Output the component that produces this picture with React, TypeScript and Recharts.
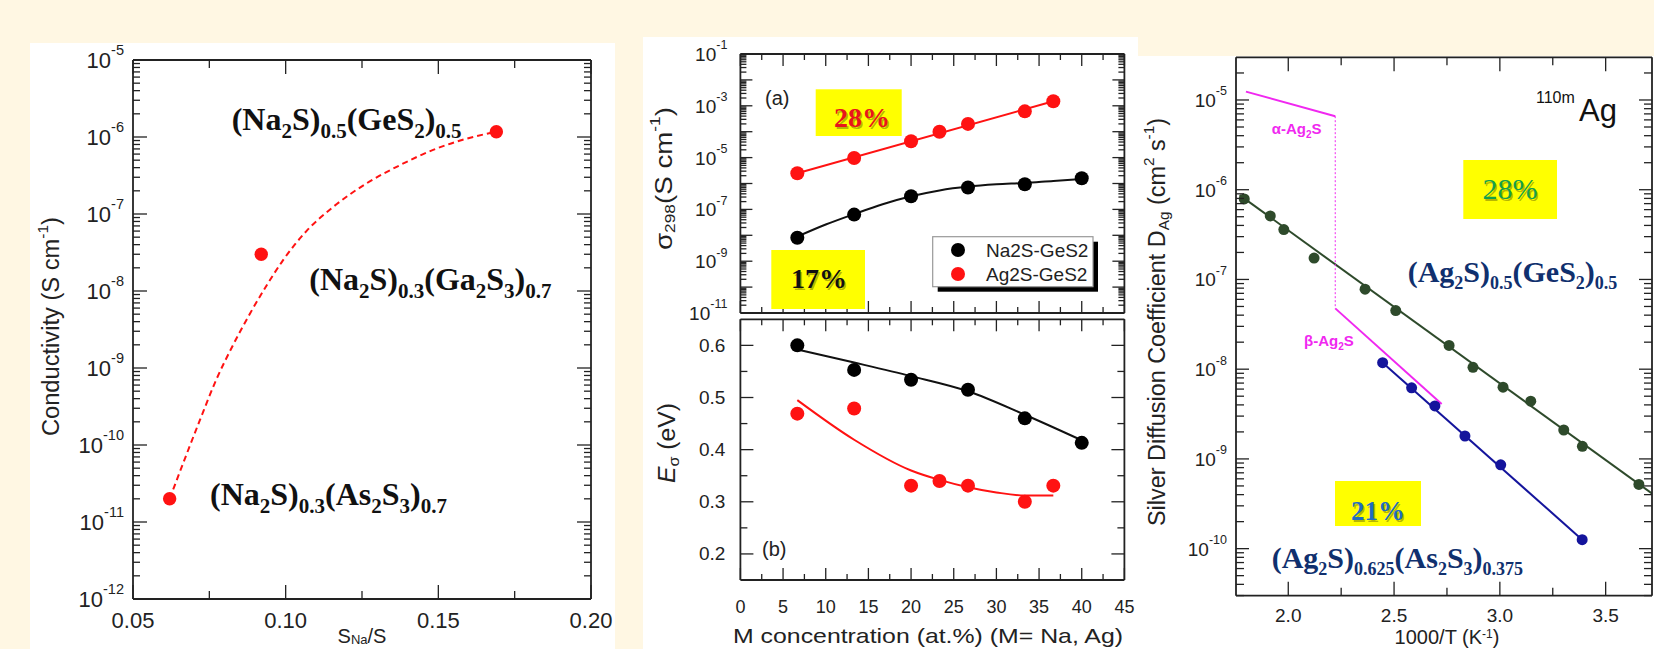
import React from 'react';
import { ComposedChart, Line, XAxis, YAxis } from 'recharts';

const W = 1654;
const H = 649;
const CREAM = '#fff7e3';
const INK = '#222222';
const SANS = "'Liberation Sans', Arial, Helvetica, sans-serif";
const SERIF = "'Liberation Serif', 'Times New Roman', serif";
const RED = '#ff1212';
const GREEN = '#2e4a2b';
const NAVY = '#14149c';
const MAGENTA = '#f028f0';
const FORMULA_BLUE = '#10306e';

// ---- left panel: conductivity vs S_Na/S
const naFraction = [0.062, 0.092, 0.169];
const naConductivity = [2.0e-11, 3.0e-8, 1.17e-6];
const naFitFraction = [0.062, 0.0719, 0.0773, 0.0828, 0.0882, 0.0937, 0.0991, 0.1068, 0.1155, 0.1265, 0.1374, 0.1483, 0.1592, 0.1691];
const naFitConductivity = [2.0e-11, 2.1e-10, 7.1e-10, 2.0e-9, 5.0e-9, 1.17e-8, 2.5e-8, 6.0e-8, 1.23e-7, 2.5e-7, 4.3e-7, 6.8e-7, 9.5e-7, 1.17e-6];
const fractionTicks = [0.05, 0.075, 0.1, 0.125, 0.15, 0.175, 0.2];
const condLabelExp = [-12, -11, -10, -9, -8, -7, -6, -5];

// ---- middle panel: sigma298 and activation energy vs M concentration
const naConc = [6.67, 13.33, 20, 26.67, 33.33, 40];
const agConc = [6.67, 13.33, 20, 23.33, 26.67, 33.33, 36.67];
const naSigma = [8.0e-9, 6.3e-8, 3.2e-7, 7.0e-7, 9.4e-7, 1.6e-6];
const agSigma = [2.5e-6, 9.6e-6, 4.3e-5, 1.0e-4, 2.0e-4, 6.1e-4, 1.5e-3];
const naSigmaFitConc = [6.67, 10, 13.33, 16.67, 20, 23.33, 26.67, 30, 33.33, 36.67, 40];
const naSigmaFit = [8.9e-9, 2.6e-8, 6.6e-8, 1.58e-7, 3.2e-7, 5.4e-7, 7.6e-7, 9.3e-7, 1.05e-6, 1.26e-6, 1.48e-6];
const agSigmaFitConc = [6.67, 36.67];
const agSigmaFit = [2.5e-6, 1.5e-3];
const naEa = [0.6, 0.553, 0.534, 0.515, 0.46, 0.413];
const agEa = [0.469, 0.479, 0.331, 0.34, 0.331, 0.3, 0.331];
const naEaFitConc = [6.67, 13.33, 20, 26.67, 33.33, 40];
const naEaFit = [0.592, 0.567, 0.541, 0.512, 0.467, 0.418];
const agEaFitConc = [6.67, 13.33, 20, 23.33, 26.67, 30, 33.33, 36.67];
const agEaFit = [0.495, 0.419, 0.36, 0.342, 0.328, 0.318, 0.312, 0.312];
const concTicks = [0, 2.5, 5, 7.5, 10, 12.5, 15, 17.5, 20, 22.5, 25, 27.5, 30, 32.5, 35, 37.5, 40, 42.5, 45];
const sigmaLabelExp = [-1, -3, -5, -7, -9, -11];
const eaTicks = [0.2, 0.25, 0.3, 0.35, 0.4, 0.45, 0.5, 0.55, 0.6];

// ---- right panel: silver diffusion coefficient vs 1000/T
const geInvT = [1.792, 1.915, 1.979, 2.122, 2.363, 2.508, 2.76, 2.873, 3.015, 3.146, 3.302, 3.39, 3.657];
const geDiff = [7.9e-7, 5.1e-7, 3.6e-7, 1.73e-7, 7.8e-8, 4.5e-8, 1.84e-8, 1.05e-8, 6.3e-9, 4.4e-9, 2.1e-9, 1.38e-9, 5.2e-10];
const geFitInvT = [1.77, 3.72];
const geFitDiff = [8.7e-7, 4.1e-10];
const asInvT = [2.446, 2.583, 2.693, 2.835, 3.004, 3.389];
const asDiff = [1.18e-8, 6.2e-9, 3.9e-9, 1.8e-9, 8.6e-10, 1.26e-10];
const asFitInvT = [2.446, 3.389];
const asFitDiff = [1.18e-8, 1.26e-10];
const alphaInvT = [1.8, 2.222];
const alphaDiff = [1.24e-5, 6.6e-6];
const jumpInvT = [2.222, 2.222];
const jumpDiff = [6.6e-6, 4.76e-8];
const betaInvT = [2.222, 2.725];
const betaDiff = [4.76e-8, 4.1e-9];
const invTTicks = [2.0, 2.25, 2.5, 2.75, 3.0, 3.25, 3.5];
const diffLabelExp = [-10, -9, -8, -7, -6, -5];

const zip = (xs: number[], ys: number[]) => xs.map((x, i) => ({ x, y: ys[i] }));

const logTicks = (lo: number, hi: number, min: number, max: number) => {
  const out: number[] = [];
  for (let e = lo; e <= hi; e++) {
    for (let m = 1; m < 10; m++) {
      const v = Number((m * Math.pow(10, e)).toPrecision(4));
      if (v >= min * 0.999 && v <= max * 1.001) out.push(v);
    }
  }
  return out;
};
const isDecade = (v: number) => Math.abs(Math.log10(v) - Math.round(Math.log10(v))) < 1e-6;
const expOf = (v: number) => Math.round(Math.log10(v));
const onStep = (v: number, step: number) => Math.abs(v / step - Math.round(v / step)) < 1e-6;

const pow10 = (e: number, fs: number) => [
  <tspan key="b">10</tspan>,
  <tspan key="e" dy={-fs * 0.45} fontSize={fs * 0.66}>{String(e)}</tspan>,
];

type Side = 'left' | 'right' | 'top' | 'bottom';
interface AxisSpec {
  domain: [number, number];
  ticks: number[];
  isMajor: (v: number) => boolean;
  majorLen: number;
  minorLen: number;
  log?: boolean;
  label?: (v: number) => React.ReactNode;
  gap?: number;
  fontSize?: number;
}

const makeTick = (side: Side, s: AxisSpec, withLabel: boolean) => (props: any) => {
  const { x, y, payload } = props;
  const v = Number(payload.value);
  const len = s.isMajor(v) ? s.majorLen : s.minorLen;
  const dx = side === 'left' ? len : side === 'right' ? -len : 0;
  const dy = side === 'top' ? len : side === 'bottom' ? -len : 0;
  const lab = withLabel && s.label ? s.label(v) : null;
  const fs = s.fontSize ?? 18;
  const gap = s.gap ?? 8;
  return (
    <g>
      <line x1={x} y1={y} x2={x + dx} y2={y + dy} stroke={INK} strokeWidth={1.3} />
      {lab != null &&
        (side === 'left' ? (
          <text x={x - gap} y={y} textAnchor="end" dominantBaseline="central" fontSize={fs} fontFamily={SANS} fill={INK}>
            {lab}
          </text>
        ) : (
          <text x={x} y={y + gap} textAnchor="middle" fontSize={fs} fontFamily={SANS} fill={INK}>
            {lab}
          </text>
        ))}
    </g>
  );
};

const AXIS_LINE = { stroke: INK, strokeWidth: 1.8 };

// axes are 1px thick: recharts skips drawing an axis whose box has zero size
const frame = (xs: AxisSpec, ys: AxisSpec, xLabels = true) => [
  <XAxis key="xb" xAxisId="b" orientation="bottom" type="number" dataKey="x" domain={xs.domain} ticks={xs.ticks}
    interval={0} allowDataOverflow height={1} tickSize={0} tickMargin={0} tickLine={false} axisLine={AXIS_LINE}
    tick={makeTick('bottom', xs, xLabels)} />,
  <XAxis key="xt" xAxisId="t" orientation="top" type="number" dataKey="x" domain={xs.domain} ticks={xs.ticks}
    interval={0} allowDataOverflow height={1} tickSize={0} tickMargin={0} tickLine={false} axisLine={AXIS_LINE}
    tick={makeTick('top', xs, false)} />,
  <YAxis key="yl" yAxisId="l" orientation="left" type="number" scale={ys.log ? 'log' : 'linear'} domain={ys.domain}
    ticks={ys.ticks} interval={0} allowDataOverflow width={1} tickSize={0} tickMargin={0} tickLine={false}
    axisLine={AXIS_LINE} tick={makeTick('left', ys, true)} />,
  <YAxis key="yr" yAxisId="r" orientation="right" type="number" scale={ys.log ? 'log' : 'linear'} domain={ys.domain}
    ticks={ys.ticks} interval={0} allowDataOverflow width={1} tickSize={0} tickMargin={0} tickLine={false}
    axisLine={AXIS_LINE} tick={makeTick('right', ys, false)} />,
];

interface Box { l: number; r: number; t: number; b: number }
const P1: Box = { l: 133, r: 591, t: 60, b: 599 };
const P2A: Box = { l: 740.4, r: 1124.4, t: 54, b: 313 };
const P2B: Box = { l: 740.4, r: 1124.4, t: 319.3, b: 580 };
const P3: Box = { l: 1236, r: 1652, t: 57.3, b: 595.7 };

const Plot = ({ box, children }: { box: Box; children: React.ReactNode }) => (
  <div style={{ position: 'absolute', left: 0, top: 0 }}>
    <ComposedChart width={W} height={H}
      margin={{ left: box.l - 1, right: W - box.r - 1, top: box.t - 1, bottom: H - box.b - 1 }}>
      {children}
    </ComposedChart>
  </div>
);

const fitLine = (data: { x: number; y: number }[], color: string, type: 'monotone' | 'linear' = 'monotone', extra: any = {}) => (
  <Line xAxisId="b" yAxisId="l" data={data} dataKey="y" type={type} stroke={color} strokeWidth={2}
    dot={false} activeDot={false} isAnimationActive={false} {...extra} />
);
const dots = (data: { x: number; y: number }[], color: string, r: number) => (
  <Line xAxisId="b" yAxisId="l" data={data} dataKey="y" stroke="none" strokeWidth={0}
    dot={{ r, fill: color, stroke: 'none' }} activeDot={false} isAnimationActive={false} />
);

type Part = { t: string; s?: 'sub' | 'sup'; i?: boolean };
const Rich = ({ parts, size, small, shift = 8, up = 9, ...rest }: any) => {
  let cur = 0;
  return (
    <text {...rest}>
      {(parts as Part[]).map((p, i) => {
        const target = p.s === 'sub' ? shift : p.s === 'sup' ? -up : 0;
        const d = target - cur;
        cur = target;
        return (
          <tspan key={i} dy={d} fontSize={p.s ? small : size} fontStyle={p.i ? 'italic' : undefined}>
            {p.t}
          </tspan>
        );
      })}
    </text>
  );
};
const sub = (t: string): Part => ({ t, s: 'sub' });
const sup = (t: string): Part => ({ t, s: 'sup' });
const n = (t: string): Part => ({ t });

const Percent = ({ x, y, text, color, size, bold = true }: any) => (
  <g>
    <text x={x + 1.5} y={y + 1.5} textAnchor="middle" fontFamily={SERIF} fontWeight={bold ? 700 : 400} fontSize={size} fill="rgba(0,0,0,0.3)">{text}</text>
    <text x={x} y={y} textAnchor="middle" fontFamily={SERIF} fontWeight={bold ? 700 : 400} fontSize={size} fill={color}>{text}</text>
  </g>
);

const rotated = (cx: number, cy: number) => ({ x: cx, y: cy, transform: `rotate(-90 ${cx} ${cy})`, textAnchor: 'middle', dominantBaseline: 'central' });

export default function App() {
  const p1X: AxisSpec = {
    domain: [0.05, 0.2], ticks: fractionTicks, majorLen: 14, minorLen: 8,
    isMajor: (v) => onStep(v, 0.05),
    label: (v) => (onStep(v, 0.05) ? v.toFixed(2) : null), gap: 29, fontSize: 22,
  };
  const p1Y: AxisSpec = {
    domain: [1e-12, 1e-5], ticks: logTicks(-12, -5, 1e-12, 1e-5), log: true, majorLen: 14, minorLen: 7,
    isMajor: isDecade, label: (v) => (isDecade(v) && condLabelExp.includes(expOf(v)) ? pow10(expOf(v), 22) : null),
    gap: 9, fontSize: 22,
  };
  const concX: AxisSpec = {
    domain: [0, 45], ticks: concTicks, majorLen: 12, minorLen: 6,
    isMajor: (v) => onStep(v, 5), label: (v) => (onStep(v, 5) ? String(v) : null), gap: 32.5, fontSize: 18,
  };
  const sigmaY: AxisSpec = {
    domain: [1e-11, 1e-1], ticks: logTicks(-11, -1, 1e-11, 1e-1), log: true, majorLen: 12, minorLen: 6,
    isMajor: isDecade, label: (v) => (isDecade(v) && sigmaLabelExp.includes(expOf(v)) ? pow10(expOf(v), 19) : null),
    gap: 13, fontSize: 19,
  };
  const eaY: AxisSpec = {
    domain: [0.15, 0.65], ticks: eaTicks, majorLen: 13, minorLen: 7,
    isMajor: (v) => onStep(v, 0.1),
    label: (v) => (onStep(v, 0.1) ? v.toFixed(1) : null), gap: 15, fontSize: 19,
  };
  const invTX: AxisSpec = {
    domain: [1.753, 3.719], ticks: invTTicks, majorLen: 14, minorLen: 8,
    isMajor: (v) => onStep(v, 0.5),
    label: (v) => (onStep(v, 0.5) ? v.toFixed(1) : null), gap: 26, fontSize: 19,
  };
  const diffY: AxisSpec = {
    domain: [2.99e-11, 2.99e-5], ticks: logTicks(-11, -5, 2.99e-11, 2.99e-5), log: true, majorLen: 13, minorLen: 8,
    isMajor: isDecade, label: (v) => (isDecade(v) && diffLabelExp.includes(expOf(v)) ? pow10(expOf(v), 19) : null),
    gap: 9, fontSize: 19,
  };

  return (
    <div style={{ position: 'absolute', left: 0, top: 0, width: W, height: H, background: CREAM, overflow: 'hidden' }}>
      <div style={{ position: 'absolute', left: 29.5, top: 42.5, width: 585.5, height: 620, background: '#fff' }} />
      <div style={{ position: 'absolute', left: 642.7, top: 37.3, width: 495, height: 620, background: '#fff' }} />
      <div style={{ position: 'absolute', left: 1137, top: 56, width: 520, height: 600, background: '#fff' }} />

      <Plot box={P1}>
        {frame(p1X, p1Y)}
        {fitLine(zip(naFitFraction, naFitConductivity), RED, 'monotone', { strokeDasharray: '6 4' })}
        {dots(zip(naFraction, naConductivity), RED, 6.7)}
      </Plot>

      <Plot box={P2A}>
        {frame(concX, sigmaY, false)}
        {fitLine(zip(naSigmaFitConc, naSigmaFit), '#111')}
        {fitLine(zip(agSigmaFitConc, agSigmaFit), RED, 'linear')}
        {dots(zip(naConc, naSigma), '#000', 7)}
        {dots(zip(agConc, agSigma), RED, 7)}
      </Plot>

      <Plot box={P2B}>
        {frame(concX, eaY)}
        {fitLine(zip(naEaFitConc, naEaFit), '#111')}
        {fitLine(zip(agEaFitConc, agEaFit), RED)}
        {dots(zip(naConc, naEa), '#000', 7)}
        {dots(zip(agConc, agEa), RED, 7)}
      </Plot>

      <Plot box={P3}>
        {frame(invTX, diffY)}
        {fitLine(zip(geFitInvT, geFitDiff), GREEN, 'linear')}
        {fitLine(zip(asFitInvT, asFitDiff), NAVY, 'linear')}
        {fitLine(zip(alphaInvT, alphaDiff), MAGENTA, 'linear')}
        {fitLine(zip(jumpInvT, jumpDiff), MAGENTA, 'linear', { strokeWidth: 1, strokeDasharray: '2 2' })}
        {fitLine(zip(betaInvT, betaDiff), MAGENTA, 'linear')}
        {dots(zip(geInvT, geDiff), GREEN, 5.5)}
        {dots(zip(asInvT, asDiff), NAVY, 5.5)}
      </Plot>

      <svg width={W} height={H} style={{ position: 'absolute', left: 0, top: 0, pointerEvents: 'none' }}>
        {/* left panel text */}
        <Rich {...rotated(51.4, 326.6)} fontFamily={SANS} fill={INK} size={23} small={15} up={9} textLength={219} lengthAdjust="spacingAndGlyphs"
          parts={[n('Conductivity (S cm'), sup('-1'), n(')')]} />
        <Rich x={362} y={643} textAnchor="middle" fontFamily={SANS} fill={INK} size={20} small={13} shift={1}
          parts={[n('S'), sub('Na'), n('/S')]} />
        <Rich x={231.7} y={130} fontFamily={SERIF} fontWeight={700} fill="#111" size={32} small={21}
          parts={[n('(Na'), sub('2'), n('S)'), sub('0.5'), n('(GeS'), sub('2'), n(')'), sub('0.5')]} />
        <Rich x={309.3} y={290} fontFamily={SERIF} fontWeight={700} fill="#111" size={32} small={21}
          parts={[n('(Na'), sub('2'), n('S)'), sub('0.3'), n('(Ga'), sub('2'), n('S'), sub('3'), n(')'), sub('0.7')]} />
        <Rich x={210} y={505} fontFamily={SERIF} fontWeight={700} fill="#111" size={32} small={21}
          parts={[n('(Na'), sub('2'), n('S)'), sub('0.3'), n('(As'), sub('2'), n('S'), sub('3'), n(')'), sub('0.7')]} />

        {/* middle panel text */}
        <Rich {...rotated(663, 178.5)} fontFamily={SANS} fill={INK} size={24} small={15} shift={6} up={9} textLength={143} lengthAdjust="spacingAndGlyphs"
          parts={[n('σ'), sub('298'), n('(S cm'), sup('-1'), n(')')]} />
        <Rich {...rotated(667, 443)} fontFamily={SANS} fill={INK} size={23} small={15} shift={6} textLength={80} lengthAdjust="spacingAndGlyphs"
          parts={[{ t: 'E', i: true }, sub('σ'), n(' (eV)')]} />
        <text x={928} y={643} textAnchor="middle" fontFamily={SANS} fontSize={21} fill={INK} textLength={390} lengthAdjust="spacingAndGlyphs">
          M concentration (at.%) (M= Na, Ag)
        </text>
        <text x={765} y={105} fontFamily={SANS} fontSize={20} fill={INK}>(a)</text>
        <text x={762} y={556} fontFamily={SANS} fontSize={20} fill={INK}>(b)</text>
        <rect x={815.7} y={89.3} width={86} height={46.7} fill="#ffff00" />
        <Percent x={862} y={127} text="28%" color="#e8141c" size={28} />
        <rect x={771.3} y={250} width={93.7} height={59} fill="#ffff00" />
        <Percent x={819} y={288} text="17%" color="#111" size={28} />
        <rect x={937.7} y={241.7} width={160.3} height={50} fill="#000" />
        <rect x={932.7} y={236.7} width={160.3} height={50} fill="#fff" stroke="#999" strokeWidth={1.2} />
        <circle cx={958} cy={250} r={7} fill="#000" />
        <circle cx={958} cy={274} r={7} fill={RED} />
        <text x={986} y={250} dominantBaseline="central" fontFamily={SANS} fontSize={19} fill={INK}>Na2S-GeS2</text>
        <text x={986} y={274} dominantBaseline="central" fontFamily={SANS} fontSize={19} fill={INK}>Ag2S-GeS2</text>

        {/* right panel text */}
        <Rich {...rotated(1157, 322)} fontFamily={SANS} fill={INK} size={23} small={15} shift={6} up={9} textLength={408} lengthAdjust="spacingAndGlyphs"
          parts={[n('Silver Diffusion Coefficient D'), sub('Ag'), n(' (cm'), sup('2'), n(' s'), sup('-1'), n(')')]} />
        <Rich x={1447} y={644} textAnchor="middle" fontFamily={SANS} fill={INK} size={20} small={12} up={6}
          parts={[n('1000/T (K'), sup('-1'), n(')')]} />
        <text x={1536} y={103} fontFamily={SANS} fontSize={16} fill="#111">110m</text>
        <text x={1579} y={121} fontFamily={SANS} fontSize={31} fill="#111">Ag</text>
        <Rich x={1271.7} y={134} fontFamily={SANS} fontWeight={700} fill={MAGENTA} size={15} small={10} shift={4}
          parts={[n('α-Ag'), sub('2'), n('S')]} />
        <Rich x={1304} y={346} fontFamily={SANS} fontWeight={700} fill={MAGENTA} size={15} small={10} shift={4}
          parts={[n('β-Ag'), sub('2'), n('S')]} />
        <rect x={1463.3} y={160} width={93.7} height={59} fill="#ffff00" />
        <Percent x={1510} y={199} text="28%" color="#14a04c" size={30} bold={false} />
        <rect x={1335} y={481} width={86} height={45} fill="#ffff00" />
        <Percent x={1378} y={520} text="21%" color="#1f6cc0" size={27} />
        <Rich x={1407.7} y={281.7} fontFamily={SERIF} fontWeight={700} fill={FORMULA_BLUE} size={30} small={18} shift={7}
          parts={[n('(Ag'), sub('2'), n('S)'), sub('0.5'), n('(GeS'), sub('2'), n(')'), sub('0.5')]} />
        <Rich x={1271.7} y={568.3} fontFamily={SERIF} fontWeight={700} fill={FORMULA_BLUE} size={30} small={18} shift={7}
          parts={[n('(Ag'), sub('2'), n('S)'), sub('0.625'), n('(As'), sub('2'), n('S'), sub('3'), n(')'), sub('0.375')]} />
      </svg>
    </div>
  );
}
